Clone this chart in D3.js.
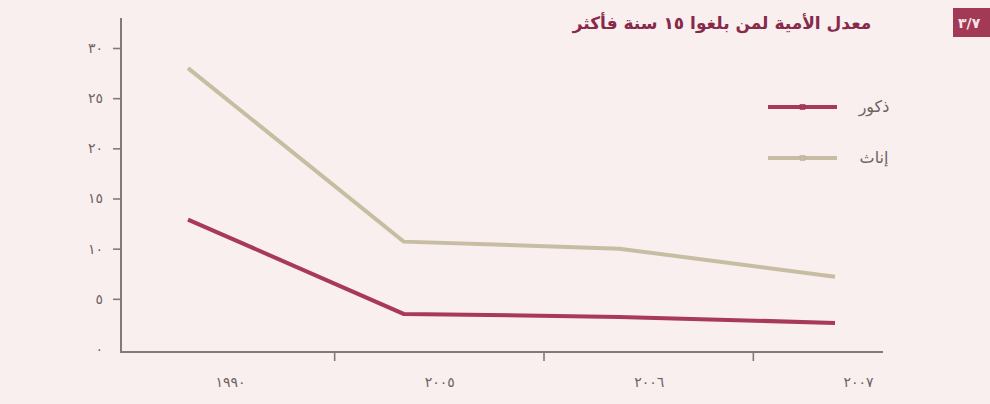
<!DOCTYPE html>
<html>
<head>
<meta charset="utf-8">
<script src="https://cdn.jsdelivr.net/npm/d3@7/dist/d3.min.js"></script>
<style>
  html, body { margin: 0; padding: 0; background: #f9efef; }
  svg { display: block; }
</style>
</head>
<body>
<svg id="chart" width="990" height="404"></svg>
<script>
// ---- data ----
const categories = ["١٩٩٠", "٢٠٠٥", "٢٠٠٦", "٢٠٠٧"];
const males   = [12.9, 3.5, 3.2, 2.6];
const females = [28.0, 10.7, 10.0, 7.2];
const yTicks = [0, 5, 10, 15, 20, 25, 30];
const seriesNames = ["ذكور", "إناث"];
const titleText = "معدل الأمية لمن بلغوا ١٥ سنة فأكثر";
const badgeText = "٣/٧";

// ---- helpers ----
const arabicDigits = "٠١٢٣٤٥٦٧٨٩";
const toArabic = v => String(v).replace(/[0-9]/g, d => arabicDigits[+d]);

const svg = d3.select("#chart");
const W = 990, H = 404;
svg.append("rect").attr("width", W).attr("height", H).attr("fill", "#f9efef");

const font = "'DejaVu Sans', sans-serif";
const axisColor = "#857878";
const textColor = "#6e6262";
const maleColor = "#a8385c";
const femaleColor = "#c7bda2";

const plot = { left: 121, right: 883, top: 18, bottom: 352 };

const y = d3.scaleLinear().domain([0, 30]).range([349, 48]);
const xData = d3.scalePoint().domain(categories).range([188, 835]);
const xLabel = d3.scalePoint().domain(categories).range([230, 858]);

// ---- title + badge ----
svg.append("text")
  .attr("x", 722).attr("y", 29)
  .attr("text-anchor", "middle")
  .attr("font-family", font).attr("font-weight", "bold")
  .attr("font-size", 17).attr("fill", "#86294a")
  .text(titleText);

svg.append("rect")
  .attr("x", 953).attr("y", 8).attr("width", 40).attr("height", 29)
  .attr("fill", "#a33a55");
svg.append("text")
  .attr("x", 958).attr("y", 28)
  .attr("font-family", font).attr("font-weight", "bold")
  .attr("font-size", 14).attr("fill", "#f6e6ea")
  .text(badgeText);

// ---- y axis ----
const yAxis = d3.axisLeft(y).tickValues(yTicks).tickSize(8).tickPadding(10).tickFormat(toArabic);
const gy = svg.append("g").attr("transform", `translate(${plot.left},0)`).call(yAxis);
gy.select(".domain").remove();
gy.selectAll(".tick line").attr("stroke", axisColor).attr("stroke-width", 1.6)
  .attr("opacity", d => d === 0 ? 0 : 1);
gy.selectAll(".tick text").attr("fill", textColor).attr("font-family", font).attr("font-size", 14);

svg.append("line")
  .attr("x1", plot.left).attr("x2", plot.left)
  .attr("y1", plot.top).attr("y2", plot.bottom)
  .attr("stroke", axisColor).attr("stroke-width", 2);

// ---- x axis ----
const xAxis = d3.axisBottom(xLabel).tickSize(0).tickPadding(25).tickFormat(d => d);
const gx = svg.append("g").attr("transform", `translate(0,${plot.bottom})`).call(xAxis);
gx.select(".domain").remove();
gx.selectAll(".tick text").attr("fill", textColor).attr("font-family", font).attr("font-size", 14);

svg.append("line")
  .attr("x1", plot.left - 1).attr("x2", plot.right)
  .attr("y1", plot.bottom).attr("y2", plot.bottom)
  .attr("stroke", axisColor).attr("stroke-width", 2);

const mids = d3.pairs(categories).map(([a, b]) => (xLabel(a) + xLabel(b)) / 2);
svg.selectAll(".xtick").data(mids).enter().append("line")
  .attr("class", "xtick")
  .attr("x1", d => d).attr("x2", d => d)
  .attr("y1", plot.bottom).attr("y2", plot.bottom + 9)
  .attr("stroke", axisColor).attr("stroke-width", 1.6);

// ---- lines ----
const line = d3.line().x(d => xData(d.c)).y(d => y(d.v));
const series = [
  { name: seriesNames[0], values: males, color: maleColor },
  { name: seriesNames[1], values: females, color: femaleColor }
];
series.forEach(s => {
  svg.append("path")
    .datum(categories.map((c, i) => ({ c, v: s.values[i] })))
    .attr("d", line)
    .attr("fill", "none")
    .attr("stroke", s.color)
    .attr("stroke-width", 4)
    .attr("stroke-linejoin", "miter");
});

// ---- legend ----
const legendY = d3.scalePoint().domain(seriesNames).range([107, 158]);
series.forEach(s => {
  const ly = legendY(s.name);
  svg.append("line")
    .attr("x1", 768).attr("x2", 837).attr("y1", ly).attr("y2", ly)
    .attr("stroke", s.color).attr("stroke-width", 4);
  svg.append("rect")
    .attr("x", 800).attr("y", ly - 2.5).attr("width", 5).attr("height", 5)
    .attr("fill", s.color).attr("stroke", d3.color(s.color).darker(0.2)).attr("stroke-width", 0.6);
  svg.append("text")
    .attr("x", 874).attr("y", ly + 5)
    .attr("text-anchor", "middle")
    .attr("font-family", font).attr("font-size", 16)
    .attr("fill", textColor)
    .text(s.name);
});
</script>
</body>
</html>
